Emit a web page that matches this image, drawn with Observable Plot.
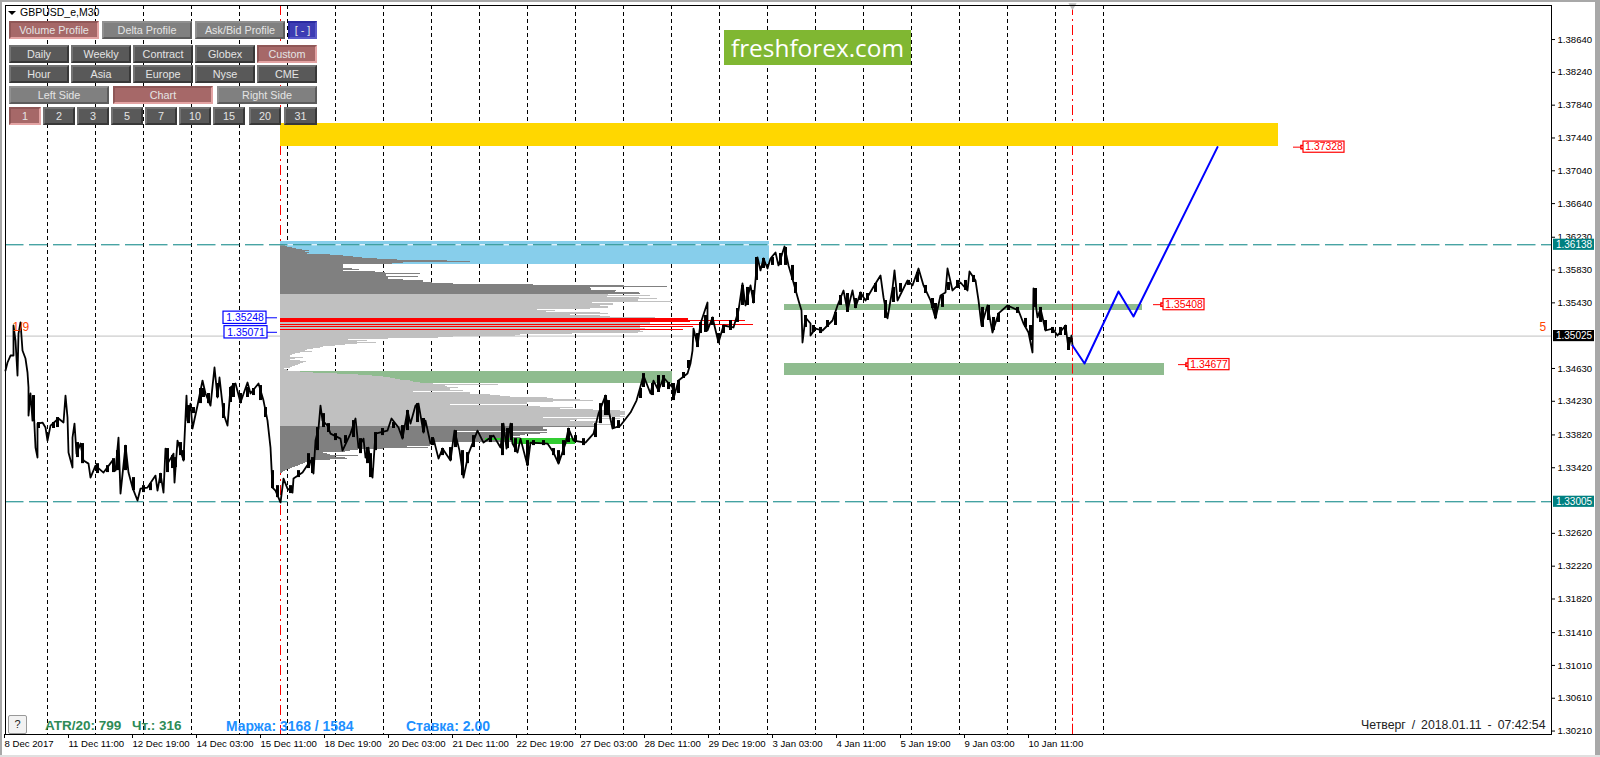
<!DOCTYPE html>
<html><head><meta charset="utf-8">
<style>
html,body{margin:0;padding:0;background:#fff;width:1600px;height:757px;overflow:hidden}
#chart{position:absolute;left:0;top:0}
#chart svg{display:block;background:#fff}
.ui{position:absolute;box-sizing:border-box;font:10.8px "Liberation Sans",sans-serif;color:#e4e4e4;text-align:center;white-space:nowrap;border-style:solid;border-width:2px}
.t{position:absolute;white-space:nowrap;font-family:"Liberation Sans",sans-serif}
.g{position:absolute;background:#a8a8a8}
</style>
<script src="https://cdn.jsdelivr.net/npm/d3@7"></script>
<script src="https://cdn.jsdelivr.net/npm/@observablehq/plot@0.6"></script>
</head><body>
<div id="chart"></div>
<script>
// ---- price series (bar index, price)
const priceBar = [0,2,5,8,8,10,12,13,15,17,20,22,23,23,25,27,28,30,32,32,37,40,42,45,53,58,60,62,63,67,67,69,71,75,78,83,85,90,98,107,110,113,115,120,123,127,132,135,142,150,152,155,158,160,162,168,169,172,178,181,182,185,187,192,197,200,205,209,212,214,218,222,225,230,235,242,245,253,258,262,265,267,270,273,275,278,282,287,288,297,305,308,310,313,315,317,322,325,335,337,345,350,353,358,360,363,367,370,382,386,393,397,402,405,410,413,418,420,425,428,433,437,445,449,454,458,463,472,478,488,495,498,501,505,507,512,515,522,525,542,548,553,560,563,568,580,588,593,600,607,615,625,631,633,638,645,648,653,658,667,668,673,682,685,687,688,692,695,702,702,707,713,718,728,733,737,740,745,748,752,755,758,762,765,770,773,779,783,788,793,796,797,800,805,805,810,817,827,832,838,842,847,850,855,860,867,875,878,882,887,889,892,902,907,913,918,925,930,935,940,942,947,955,962,964,970,973,976,982,987,993,1002,1013,1018,1023,1027,1028,1032,1035,1040,1047,1052,1060,1063,1066,1067];
const priceVal = [1.34605,1.34703,1.34788,1.34788,1.35154,1.34971,1.34544,1.35056,1.35191,1.34849,1.34751,1.34581,1.34398,1.34056,1.34325,1.33995,1.34178,1.33666,1.33544,1.33958,1.33971,1.33910,1.33751,1.33934,1.34020,1.33971,1.34300,1.34032,1.33605,1.33422,1.33788,1.33958,1.33592,1.33715,1.33507,1.33470,1.33300,1.33446,1.33361,1.33507,1.33385,1.33788,1.33105,1.33690,1.33361,1.33178,1.33020,1.33166,1.33178,1.33324,1.33141,1.33349,1.33117,1.33654,1.33470,1.33592,1.33239,1.33751,1.33507,1.34300,1.33995,1.34202,1.33898,1.34178,1.34483,1.34325,1.34178,1.34642,1.34276,1.34520,1.34080,1.33934,1.34398,1.34447,1.34215,1.34459,1.34325,1.34447,1.34239,1.33995,1.33666,1.33178,1.33141,1.33056,1.32996,1.33288,1.33166,1.33117,1.33288,1.33361,1.33507,1.33349,1.33751,1.33898,1.34178,1.33995,1.33934,1.33836,1.33775,1.33629,1.33836,1.34020,1.33666,1.33775,1.33544,1.33666,1.33300,1.33836,1.33873,1.34020,1.33910,1.33775,1.34117,1.33958,1.34178,1.34202,1.33849,1.33995,1.33715,1.33775,1.33531,1.33654,1.33507,1.33873,1.33629,1.33300,1.33592,1.33873,1.33727,1.33812,1.33666,1.33958,1.33654,1.33958,1.33715,1.33605,1.33775,1.33446,1.33727,1.33715,1.33605,1.33470,1.33715,1.33898,1.33751,1.33727,1.33836,1.34080,1.34300,1.33898,1.33934,1.34093,1.34239,1.34325,1.34544,1.34325,1.34483,1.34361,1.34520,1.34398,1.34264,1.34483,1.34569,1.34691,1.34849,1.35117,1.34910,1.35178,1.35434,1.35093,1.35252,1.34947,1.35154,1.35130,1.35337,1.35666,1.35398,1.35642,1.35434,1.35983,1.35825,1.35971,1.35849,1.35971,1.36044,1.35886,1.36117,1.35886,1.35678,1.35459,1.35337,1.34947,1.35252,1.35178,1.35032,1.35117,1.35093,1.35215,1.35398,1.35581,1.35337,1.35581,1.35374,1.35557,1.35459,1.35605,1.35764,1.35496,1.35240,1.35605,1.35825,1.35459,1.35703,1.35642,1.35849,1.35642,1.35459,1.35240,1.35520,1.35557,1.35849,1.35581,1.35678,1.35581,1.35813,1.35703,1.35459,1.35154,1.35398,1.35069,1.35301,1.35398,1.35337,1.35178,1.35069,1.34825,1.35605,1.35252,1.35361,1.35093,1.35117,1.35032,1.35154,1.34874,1.35032,1.34910];
// ---- high-low ranges where the bars are densest
const rangeBar = [28,33,48,52,72,77,92,102,108,112,120,128,138,145,155,162,167,170,175,178,183,188,195,198,203,212,218,225,228,235,242,248,255,260,267,272,285,293,303,307,312,318,323,330,340,348,355,362,365,370,377,388,397,402,412,418,427,437,445,450,457,462,468,485,497,502,506,510,522,528,538,548,553,558,563,570,578,590,595,600,603,608,613,635,638,647,653,658,663,668,673,678,683,692,695,700,707,713,718,725,732,737,742,748,751,758,767,775,780,787,790,800,808,815,822,830,835,842,850,855,862,870,880,888,895,903,912,920,927,930,937,943,952,960,968,977,983,988,993,1003,1012,1020,1025,1030,1035,1040,1047,1055,1060,1063];
const rangeHi = [1.34300,1.33971,1.33971,1.34032,1.33727,1.33715,1.33470,1.33446,1.33531,1.33629,1.33690,1.33300,1.33202,1.33227,1.33349,1.33654,1.33568,1.33544,1.33727,1.33629,1.34178,1.34154,1.34386,1.34386,1.34325,1.34447,1.34202,1.34398,1.34447,1.34325,1.34398,1.34386,1.34422,1.34154,1.33385,1.33202,1.33202,1.33385,1.33592,1.33544,1.33910,1.34080,1.33958,1.33836,1.33812,1.33995,1.33775,1.33666,1.33592,1.33849,1.33898,1.33971,1.33934,1.34117,1.34202,1.34020,1.33788,1.33654,1.33666,1.33873,1.33629,1.33605,1.33812,1.33812,1.33958,1.33898,1.33958,1.33775,1.33751,1.33751,1.33751,1.33654,1.33629,1.33751,1.33898,1.33812,1.33775,1.33958,1.34202,1.34300,1.34239,1.34032,1.33995,1.34386,1.34568,1.34447,1.34544,1.34544,1.34459,1.34447,1.34483,1.34581,1.34727,1.35056,1.35191,1.35276,1.35252,1.35056,1.35154,1.35215,1.35361,1.35642,1.35618,1.35581,1.35983,1.35971,1.35983,1.36032,1.36105,1.35886,1.35678,1.35276,1.35154,1.35130,1.35215,1.35313,1.35520,1.35544,1.35483,1.35557,1.35544,1.35666,1.35459,1.35618,1.35666,1.35703,1.35800,1.35642,1.35483,1.35422,1.35520,1.35678,1.35703,1.35703,1.35764,1.35374,1.35398,1.35252,1.35301,1.35398,1.35374,1.35240,1.35154,1.35605,1.35374,1.35215,1.35130,1.35130,1.35154,1.35008];
const rangeLo = [1.33995,1.33898,1.33898,1.33910,1.33544,1.33470,1.33349,1.33361,1.33361,1.33385,1.33385,1.33141,1.33117,1.33141,1.33227,1.33361,1.33410,1.33422,1.33568,1.33507,1.33958,1.34080,1.34202,1.34276,1.34202,1.34276,1.34020,1.34215,1.34276,1.34202,1.34276,1.34300,1.34239,1.34032,1.33166,1.33056,1.33105,1.33300,1.33410,1.33349,1.33629,1.33910,1.33849,1.33751,1.33715,1.33788,1.33592,1.33470,1.33300,1.33629,1.33812,1.33898,1.33775,1.33873,1.33971,1.33849,1.33690,1.33568,1.33507,1.33666,1.33324,1.33470,1.33666,1.33727,1.33568,1.33654,1.33751,1.33605,1.33446,1.33690,1.33690,1.33568,1.33470,1.33568,1.33727,1.33727,1.33690,1.33788,1.33958,1.34056,1.34056,1.33898,1.33898,1.34264,1.34398,1.34300,1.34337,1.34398,1.34373,1.34239,1.34325,1.34508,1.34630,1.34885,1.35056,1.35069,1.35154,1.34934,1.35056,1.35093,1.35191,1.35398,1.35398,1.35422,1.35703,1.35849,1.35886,1.35886,1.35886,1.35703,1.35544,1.35130,1.35069,1.35056,1.35130,1.35154,1.35398,1.35313,1.35361,1.35459,1.35459,1.35557,1.35240,1.35434,1.35557,1.35642,1.35678,1.35544,1.35361,1.35240,1.35374,1.35581,1.35605,1.35581,1.35678,1.35130,1.35215,1.35093,1.35191,1.35337,1.35301,1.35130,1.34971,1.35374,1.35191,1.35093,1.35056,1.35032,1.35032,1.34849];
// ---- forecast path
const forecastBar = [1067,1079,1113,1128,1212];
const forecastVal = [1.34910,1.34691,1.35569,1.35264,1.37328];
// ---- volume profile: width in bars of each price level, top to bottom
const profileStartBar = 275;
const profileTopPrice = 1.36142;
const profileBin = 0.00012191;
const profileVol = [3,5,7,12,16,22,29,25,29,27,50,63,73,82,97,117,167,190,123,112,63,63,63,63,72,79,63,95,105,140,106,106,138,108,108,123,143,143,152,173,253,344,387,310,311,311,336,335,359,
360,328,370,327,359,377,358,358,392,312,333,333,320,328,328,310,257,275,266,320,328,290,320,330,375,
408,408,465,410,370,370,473,360,413,360,365,403,360,363,358,292,240,235,173,158,108,68,87,77,96,77,65,55,43,40,33,27,25,32,20,15,12,10,10,23,15,10,20,26,23,20,18,15,12,10,4,7,8,20,33,57,78,92,103,110,115,120,130,133,140,153,218,165,167,178,170,170,183,133,190,190,210,220,230,267,273,300,313,273,247,247,170,247,260,293,280,313,340,345,345,345,345,340,345,263,340,297,290,320,320,313,333,
317,317,263,263,267,267,177,267,260,245,240,230,240,270,240,235,232,150,150,150,150,127,148,103,78,70,65,43,47,50,78,55,65,67,50,33,30,25,23,20,18,15,12,10,7,5,3,2];
const pocLevels = [74,75,76,77,80,82,85];
const valueAreaHigh = 1.35544, valueAreaLow = 1.33934;
// ---- zones
const backZoneX1 = [275,275,275];
const backZoneX2 = [1273,764,667];
const backZoneTop = [1.37617,1.36178,1.34594];
const backZoneBot = [1.37342,1.35898,1.34447];
const backZoneColor = ["#FFD700","#87CEEB","#8FBC8F"];
const frontZoneX1 = [779,779];
const frontZoneX2 = [1137,1159];
const frontZoneTop = [1.35414,1.34691];
const frontZoneBot = [1.35337,1.34545];
// ---- axes
const gridBars = [42,90,138,186,234,282,330,378,426,474,522,570,618,666,714,762,810,858,906,954,1002,1050,1098];
const timeTickBars = [0,64,128,192,256,320,384,448,512,576,640,704,768,832,896,960,1024];
const timeTickLabels = ["8 Dec 2017","11 Dec 11:00","12 Dec 19:00","14 Dec 03:00","15 Dec 11:00","18 Dec 19:00","20 Dec 03:00","21 Dec 11:00","22 Dec 19:00","27 Dec 03:00","28 Dec 11:00","29 Dec 19:00","3 Jan 03:00","4 Jan 11:00","5 Jan 19:00","9 Jan 03:00","10 Jan 11:00"];
const priceTicks = [1.38640,1.38240,1.37840,1.37440,1.37040,1.36640,1.36230,1.35830,1.35430,1.34630,1.34230,1.33820,1.33420,1.32620,1.32220,1.31820,1.31410,1.31010,1.30610,1.30210];
// ---- levels and labels
const levelLines = [1.36138,1.33005];
const lastPrice = 1.35025;
const sideBoxes = [1.36138,1.33005,1.35025];
const sideColors = ["#008080","#008080","#000000"];
const targetPrices = [1.37328,1.35408,1.34677];
const targetBars = [1298,1158,1183];
const pocPrices = [1.35248,1.35071];
const pocBars = [218,219];
const markerBars = [275,1067];

const F = d3.format(".5f");
const halfBox = 0.00068, boxW = 41;
const levels = profileVol.map((v,i)=>{
  const top = profileTopPrice - i*profileBin;
  return {i, v, top, bot: top-profileBin,
    fill: pocLevels.includes(i) ? "#FF0000" : (top>valueAreaHigh || top<=valueAreaLow) ? "#808080" : "#C0C0C0"};
});
const backZones = backZoneX1.map((x1,i)=>({x1,x2:backZoneX2[i],y1:backZoneTop[i],y2:backZoneBot[i],c:backZoneColor[i]}));
const frontZones = frontZoneX1.map((x1,i)=>({x1,x2:frontZoneX2[i],y1:frontZoneTop[i],y2:frontZoneBot[i],c:"#8FBC8F"}));
const pricePts = priceBar.map((x,i)=>({x,y:priceVal[i]}));
const forecastPts = forecastBar.map((x,i)=>({x,y:forecastVal[i]}));
const ranges = rangeBar.map((x,i)=>({x,hi:rangeHi[i],lo:rangeLo[i]}));
const font = "Liberation Sans, sans-serif";

const plot = Plot.plot({
  width:1600,height:757,marginLeft:5,marginRight:49,marginTop:5,marginBottom:23,
  style:{fontFamily:font,background:"#fff",color:"#000",overflow:"visible"},
  x:{type:"linear",domain:[0,1546]},
  y:{type:"linear",domain:[1.30168,1.39055]},
  marks:[
    Plot.ruleY([lastPrice],{stroke:"#C0C0C0",strokeWidth:1}),
    Plot.ruleX(gridBars,{stroke:"#000",strokeDasharray:"4 3",strokeWidth:1}),
    Plot.ruleX(markerBars,{stroke:"#FF0000",strokeDasharray:"10 4 2 4",strokeWidth:1}),
    Plot.rect(backZones,{x1:"x1",x2:"x2",y1:"y1",y2:"y2",fill:d=>d.c,shapeRendering:"crispEdges"}),
    Plot.rect(levels,{x1:()=>profileStartBar,x2:d=>profileStartBar+d.v,y1:"top",y2:"bot",fill:d=>d.fill,shapeRendering:"crispEdges"}),
    // POC highlight of the profile
    Plot.rect([{a:507,b:570,t:1.33773,u:1.33703},{a:480,b:507,t:1.33773,u:1.33748}],{x1:"a",x2:"b",y1:"t",y2:"u",fill:"#32CD32",shapeRendering:"crispEdges"}),
    Plot.rect(frontZones,{x1:"x1",x2:"x2",y1:"y1",y2:"y2",fill:d=>d.c,shapeRendering:"crispEdges"}),
    Plot.ruleX([markerBars[1]],{y1:1.35414,y2:1.30168,stroke:"#FF0000",strokeDasharray:"10 4 2 4",strokeWidth:1}),
    Plot.ruleY([levelLines[0]],{x1:profileStartBar,x2:764,stroke:"#fff"}),
    Plot.ruleY(levelLines,{stroke:"#008080",strokeDasharray:"18.5 5.5",strokeWidth:1}),
    Plot.dot([markerBars[1]],{x:d=>d,y:()=>1.39055,symbol:"triangle",r:3,fill:"#bbb",rotate:180}),
    Plot.ruleX(ranges,{x:"x",y1:"hi",y2:"lo",stroke:"#000",strokeWidth:3}),
    Plot.line(pricePts,{x:"x",y:"y",stroke:"#000",strokeWidth:1.8}),
    Plot.line(forecastPts,{x:"x",y:"y",stroke:"#0000FF",strokeWidth:2}),
    Plot.frame({stroke:"#000",strokeWidth:1}),
    Plot.axisX({anchor:"bottom",ticks:timeTickBars,tickFormat:d=>timeTickLabels[timeTickBars.indexOf(d)],textAnchor:"start",tickSize:4,tickPadding:2,fontSize:9.6,label:null,stroke:"#000",fill:"#000",dx:-1}),
    Plot.axisY({anchor:"right",ticks:priceTicks,tickFormat:F,tickSize:3,tickPadding:3,fontSize:9.6,label:null,fill:"#000"}),
    // right-hand price boxes
    Plot.rect(sideBoxes,{x1:()=>1548,x2:()=>1589,y1:d=>d+halfBox,y2:d=>d-halfBox,fill:(d,i)=>sideColors[i]}),
    Plot.text(sideBoxes,{x:()=>1568.5,y:d=>d,text:F,fill:"#fff",fontSize:10}),
    // target labels
    Plot.ruleY(targetPrices,{x1:(d,i)=>targetBars[i]-10,x2:(d,i)=>targetBars[i],stroke:"#FF0000"}),
    Plot.dot(targetPrices,{x:(d,i)=>targetBars[i]-1,y:d=>d,symbol:"square",r:1.8,stroke:"#FF0000",fill:"#fff"}),
    Plot.rect(targetPrices,{x1:(d,i)=>targetBars[i],x2:(d,i)=>targetBars[i]+boxW,y1:d=>d+halfBox,y2:d=>d-halfBox,fill:"#fff",stroke:"#FF0000",strokeWidth:1.2}),
    Plot.text(targetPrices,{x:(d,i)=>targetBars[i]+boxW/2,y:d=>d,text:F,fill:"#FF0000",fontSize:10.4}),
    // profile labels
    Plot.ruleY(pocPrices,{x1:(d,i)=>pocBars[i]+boxW+2,x2:272,stroke:"#0000FF"}),
    Plot.rect(pocPrices,{x1:(d,i)=>pocBars[i],x2:(d,i)=>pocBars[i]+boxW+2,y1:d=>d+0.00075,y2:d=>d-0.00075,fill:"#fff",stroke:"#0000FF",strokeWidth:1.2}),
    Plot.text(pocPrices,{x:(d,i)=>pocBars[i]+boxW/2+1,y:d=>d,text:F,fill:"#0000FF",fontSize:10.4}),
    // session counters
    Plot.text(["1/9"],{x:()=>7,y:()=>1.35130,text:d=>d,textAnchor:"start",fill:"#FF4500",fontSize:12}),
    Plot.text(["5"],{x:()=>1534,y:()=>1.35130,text:d=>d,textAnchor:"start",fill:"#FF4500",fontSize:12})
  ]
});
document.getElementById("chart").appendChild(plot);

// ---- terminal panel widgets
const RED="r",GRY="g",DRK="d",BLU="b";
const uiButtons = [
 ["Volume Profile",9,21,90,18,RED],["Delta Profile",102,21,90,18,GRY],["Ask/Bid Profile",195,21,90,18,GRY],["[ - ]",288,21,29,18,BLU],
 ["Daily",9,45,60,18,DRK],["Weekly",71,45,60,18,DRK],["Contract",133,45,60,18,DRK],["Globex",195,45,60,18,DRK],["Custom",257,45,60,18,RED],
 ["Hour",9,65,60,18,DRK],["Asia",71,65,60,18,DRK],["Europe",133,65,60,18,DRK],["Nyse",195,65,60,18,DRK],["CME",257,65,60,18,DRK],
 ["Left Side",9,86,100,18,GRY],["Chart",113,86,100,18,RED],["Right Side",217,86,100,18,GRY],
 ["1",9,107,32,18,RED],["2",43,107,32,18,DRK],["3",77,107,32,18,DRK],["5",111,107,32,18,DRK],["7",145,107,32,18,DRK],["10",179,107,32,18,DRK],["15",213,107,32,18,DRK],["20",249,107,32,18,DRK],["31",284,107,33,18,DRK]
];
const skins = {
 r:{bg:"#A66868",c:"#8f5757 #E3A3A3 #E3A3A3 #8f5757"},
 g:{bg:"#808080",c:"#909090 #5c5c5c #5c5c5c #909090"},
 d:{bg:"#595959",c:"#737373 #383838 #383838 #737373"},
 b:{bg:"#3C3CB4",c:"#2a2aa0 #5a5ac8 #5a5ac8 #2a2aa0"}
};
for(const [t,x,y,w,h,k] of uiButtons){
  const d=document.createElement("div");d.className="ui";d.textContent=t;
  d.style.cssText=`left:${x}px;top:${y}px;width:${w}px;height:${h}px;line-height:${h-4}px;background:${skins[k].bg};border-color:${skins[k].c}`;
  document.body.appendChild(d);
}
const uiTexts = [
 ["GBPUSD_e,M30",20,6,"10.5px","normal","#000"],
 ["ATR/20: 799",45,718,"13.5px","bold","#2E8B57"],
 ["Чт.: 316",132,718,"13.5px","bold","#2E8B57"],
 ["Маржа: 3168 / 1584",226,718,"13.9px","bold","#1E90FF"],
 ["Ставка: 2.00",406,718,"14px","bold","#1E90FF"],
 ["Четверг / 2018.01.11 - 07:42:54",1361,718,"12.3px","normal","#222"]
];
for(const [t,x,y,fs,fw,c] of uiTexts){
  const d=document.createElement("div");d.className="t";d.textContent=t;
  d.style.cssText=`left:${x}px;top:${y}px;font-size:${fs};font-weight:${fw};color:${c}`;
  if(t.startsWith("Четверг")) d.style.wordSpacing="2.5px";
  document.body.appendChild(d);
}
// drop-down triangle
const tri=document.createElement("div");
tri.style.cssText="position:absolute;left:8px;top:11px;width:0;height:0;border-left:4px solid transparent;border-right:4px solid transparent;border-top:4px solid #000";
document.body.appendChild(tri);
// help button
const q=document.createElement("div");q.className="t";q.textContent="?";
q.style.cssText="left:8px;top:715px;width:19px;height:19px;box-sizing:border-box;background:#f2f2f2;border:1px solid #999;border-radius:2px;text-align:center;font-size:11px;line-height:17px;color:#222";
document.body.appendChild(q);
// logo
const logo=document.createElement("div");logo.className="t";logo.textContent="freshforex.com";
logo.style.cssText='left:724px;top:30px;width:187px;height:35px;background:#80B732;color:#fff;font:24.4px "Open Sans",sans-serif;line-height:35px;text-align:center';
document.body.appendChild(logo);
// window edges
[[0,0,2,757,"#a8a8a8"],[1595,0,5,757,"#a8a8a8"],[0,0,1600,2,"#a8a8a8"],[0,755,1600,2,"#e0e0e0"]].forEach(([l,t,w,h,c])=>{
  const d=document.createElement("div");d.className="g";d.style.cssText=`left:${l}px;top:${t}px;width:${w}px;height:${h}px;background:${c}`;document.body.appendChild(d);
});
</script>
</body></html>
